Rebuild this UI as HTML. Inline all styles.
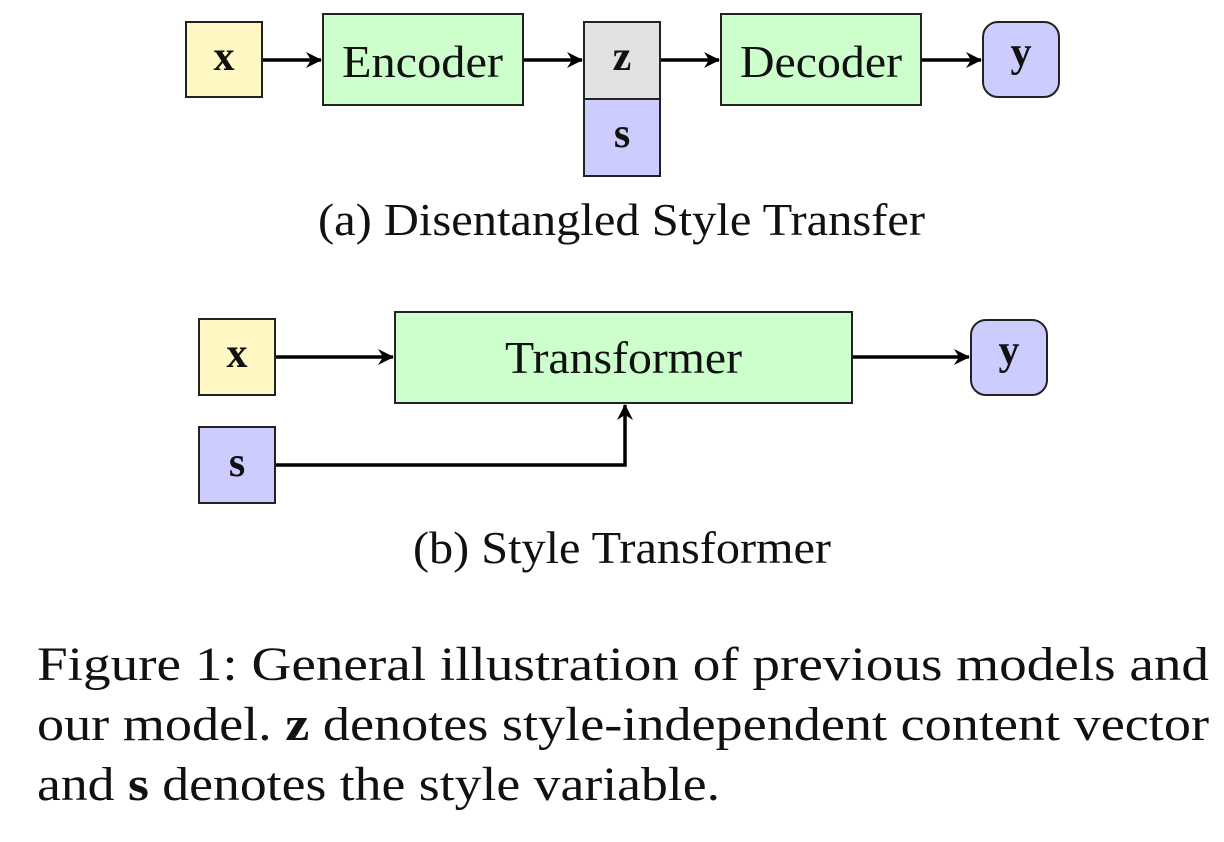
<!DOCTYPE html>
<html><head><meta charset="utf-8"><style>
body{margin:0;width:1224px;height:842px;background:#fff;overflow:hidden;}
svg{position:absolute;left:0;top:0}
</style></head><body>
<svg width="1224" height="842" font-family="Liberation Serif, serif">
<defs><marker id="a" markerWidth="18" markerHeight="16" refX="15" refY="8" orient="auto" markerUnits="userSpaceOnUse"><path d="M0,0 L16,8 L0,16 L5,8 Z" fill="#000"/></marker></defs>
<g stroke="#222" stroke-width="2">
<rect x="186" y="22" width="76" height="75" fill="#fff7c4"/>
<rect x="323" y="14" width="200" height="91" fill="#ccffcc"/>
<rect x="584" y="22" width="76" height="77" fill="#e2e2e2"/>
<rect x="584" y="99" width="76" height="77" fill="#ccccff"/>
<rect x="721" y="14" width="200" height="91" fill="#ccffcc"/>
<rect x="983" y="22" width="76" height="75" rx="15" fill="#ccccff"/>
<rect x="199" y="319" width="76" height="76" fill="#fff7c4"/>
<rect x="395" y="312" width="457" height="91" fill="#ccffcc"/>
<rect x="971" y="320" width="76" height="75" rx="15" fill="#ccccff"/>
<rect x="199" y="427" width="76" height="76" fill="#ccccff"/>
</g>
<g stroke="#000" stroke-width="3.5" fill="none" marker-end="url(#a)">
<line x1="263" y1="60" x2="321" y2="60"/>
<line x1="524" y1="60" x2="582" y2="60"/>
<line x1="661" y1="60" x2="719" y2="60"/>
<line x1="922" y1="60" x2="981" y2="60"/>
<line x1="276" y1="357" x2="393" y2="357"/>
<line x1="853" y1="357" x2="969" y2="357"/>
<polyline points="276,465 625,465 625,405"/>
</g>
<g font-size="42" text-anchor="middle" fill="#111" font-weight="bold">
<text x="224" y="70">x</text>
<text x="622" y="70">z</text>
<text x="622" y="147">s</text>
<text x="1021" y="66">y</text>
<text x="237" y="367">x</text>
<text x="1009" y="364">y</text>
<text x="237" y="476">s</text>
</g>
<g font-size="46" fill="#111" lengthAdjust="spacingAndGlyphs">
<text x="342" y="77" textLength="161" lengthAdjust="spacingAndGlyphs">Encoder</text>
<text x="740" y="77" textLength="162" lengthAdjust="spacingAndGlyphs">Decoder</text>
<text x="505" y="373" textLength="237" lengthAdjust="spacingAndGlyphs">Transformer</text>
<text x="318" y="235" textLength="607" lengthAdjust="spacingAndGlyphs">(a) Disentangled Style Transfer</text>
<text x="413" y="563" textLength="418" lengthAdjust="spacingAndGlyphs">(b) Style Transformer</text>
</g>
<g font-size="48" fill="#111">
<text x="37" y="680" textLength="1172" lengthAdjust="spacingAndGlyphs">Figure 1:  General illustration of previous models and</text>
<text x="37" y="740" textLength="1172" lengthAdjust="spacingAndGlyphs">our model. <tspan font-weight="bold">z</tspan> denotes style-independent content vector</text>
<text x="37" y="800" textLength="683" lengthAdjust="spacingAndGlyphs">and <tspan font-weight="bold">s</tspan> denotes the style variable.</text>
</g>
</svg>
</body></html>
